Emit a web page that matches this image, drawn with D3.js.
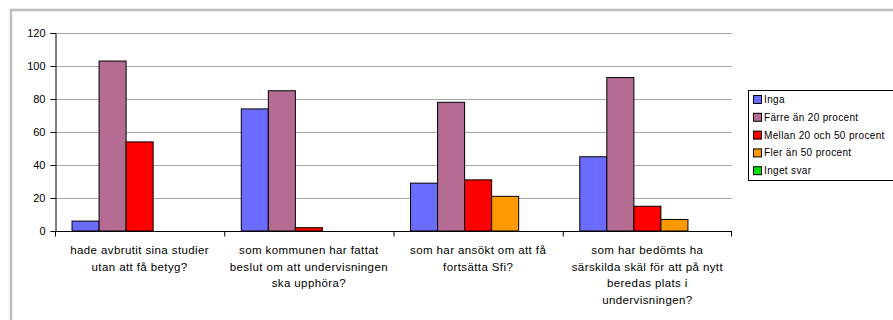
<!DOCTYPE html>
<html>
<head>
<meta charset="utf-8">
<script src="https://cdn.jsdelivr.net/npm/d3@7"></script>
<style>
  html, body { margin: 0; padding: 0; background: #fff; }
  svg { display: block; font-family: "Liberation Sans", Arial, sans-serif; }
</style>
</head>
<body>
<svg id="chart" width="893" height="320"></svg>
<script>
// Question categories (one line per array entry)
const categories = [
  ["hade avbrutit sina studier", "utan att få betyg?"],
  ["som kommunen har fattat", "beslut om att undervisningen", "ska upphöra?"],
  ["som har ansökt om att få", "fortsätta Sfi?"],
  ["som har bedömts ha", "särskilda skäl för att på nytt", "beredas plats i", "undervisningen?"]
];
const seriesNames = ["Inga", "Färre än 20 procent", "Mellan 20 och 50 procent", "Fler än 50 procent", "Inget svar"];
const inga      = [6, 74, 29, 45];
const farre20   = [103, 85, 78, 93];
const mellan    = [54, 2, 31, 15];
const fler50    = [0, 0, 21, 7];
const ingetSvar = [0, 0, 0, 0];
const yTicks = [0, 20, 40, 60, 80, 100, 120];
const colors = ["#6B6BFF", "#B56C92", "#FF0000", "#FF9900", "#00E000"];

const seriesValues = [inga, farre20, mellan, fler50, ingetSvar];

const svg = d3.select("#chart");

// Outer chart frame
svg.append("rect")
  .attr("x", 11).attr("y", 10)
  .attr("width", 900).attr("height", 330)
  .attr("fill", "none").attr("stroke", "#bdbdbd").attr("stroke-width", 2.5);

const plot = { left: 55, right: 732, top: 33, bottom: 231 };

const x0 = d3.scaleBand()
  .domain(d3.range(categories.length))
  .range([plot.left, plot.right])
  .paddingInner(0).paddingOuter(0);

const x1 = d3.scaleBand()
  .domain(d3.range(seriesNames.length))
  .range([0, x0.bandwidth()])
  .paddingOuter(0.63).paddingInner(0);

const y = d3.scaleLinear().domain([0, 120]).range([plot.bottom, plot.top]);

// Gridlines
svg.append("g")
  .selectAll("line")
  .data(yTicks.filter(d => d > 0))
  .join("line")
  .attr("x1", plot.left).attr("x2", plot.right)
  .attr("y1", d => Math.round(y(d)) + 0.5).attr("y2", d => Math.round(y(d)) + 0.5)
  .attr("stroke", "#a6a6a6").attr("stroke-width", 1);

// Bars
const groups = svg.append("g")
  .selectAll("g")
  .data(categories.map((c, i) => i))
  .join("g")
  .attr("transform", i => `translate(${x0(i)},0)`);

groups.selectAll("rect")
  .data(i => seriesValues.map((vals, s) => ({ s, v: vals[i] })).filter(d => d.v > 0))
  .join("rect")
  .attr("x", d => x1(d.s))
  .attr("y", d => y(d.v))
  .attr("width", x1.bandwidth())
  .attr("height", d => y(0) - y(d.v))
  .attr("fill", d => colors[d.s])
  .attr("stroke", "#000").attr("stroke-width", 1);

// Y axis
const yAxis = d3.axisLeft(y).tickValues(yTicks).tickSize(5).tickPadding(5);
const yg = svg.append("g")
  .attr("transform", `translate(${plot.left + 0.5},0)`)
  .call(yAxis);
yg.select(".domain").attr("stroke", "#000");
yg.selectAll(".tick line").attr("stroke", "#000");
yg.selectAll(".tick text")
  .attr("font-size", 11).attr("fill", "#000")
  .attr("font-family", "Liberation Sans, Arial, sans-serif");

// X axis with ticks on category boundaries
const xg = svg.append("g").attr("transform", `translate(0,${plot.bottom + 0.5})`);
xg.append("line")
  .attr("x1", plot.left).attr("x2", plot.right)
  .attr("stroke", "#000");
xg.selectAll("line.tick")
  .data(d3.range(categories.length + 1))
  .join("line")
  .attr("class", "tick")
  .attr("x1", i => i < categories.length ? x0(i) + 0.5 : plot.right - 0.5)
  .attr("x2", i => i < categories.length ? x0(i) + 0.5 : plot.right - 0.5)
  .attr("y1", 0).attr("y2", 5)
  .attr("stroke", "#000");

// Category labels
const labels = svg.append("g")
  .selectAll("text")
  .data(categories)
  .join("text")
  .attr("text-anchor", "middle")
  .attr("font-size", 11.5)
  .attr("letter-spacing", 0.4)
  .attr("fill", "#000")
  .attr("x", (d, i) => x0(i) + x0.bandwidth() / 2)
  .attr("y", 254);
labels.selectAll("tspan")
  .data(d => d)
  .join("tspan")
  .attr("x", function () { return d3.select(this.parentNode).attr("x"); })
  .attr("dy", (d, j) => j === 0 ? 0 : 16.7)
  .text(d => d);

// Legend
const legend = svg.append("g").attr("transform", "translate(748,90)");
legend.append("rect")
  .attr("x", 0.5).attr("y", 0.5)
  .attr("width", 160).attr("height", 90)
  .attr("fill", "#fff").attr("stroke", "#000").attr("stroke-width", 1);
const item = legend.selectAll("g.item")
  .data(seriesNames)
  .join("g")
  .attr("class", "item")
  .attr("transform", (d, i) => `translate(0,${9 + i * 17.8})`);
item.append("rect")
  .attr("x", 5.5).attr("y", -3.5)
  .attr("width", 8).attr("height", 8)
  .attr("fill", (d, i) => colors[i])
  .attr("stroke", "#000");
item.append("text")
  .attr("x", 16).attr("y", 4)
  .attr("font-size", 10)
  .attr("letter-spacing", 0.35)
  .attr("fill", "#000")
  .text(d => d);
</script>
</body>
</html>
